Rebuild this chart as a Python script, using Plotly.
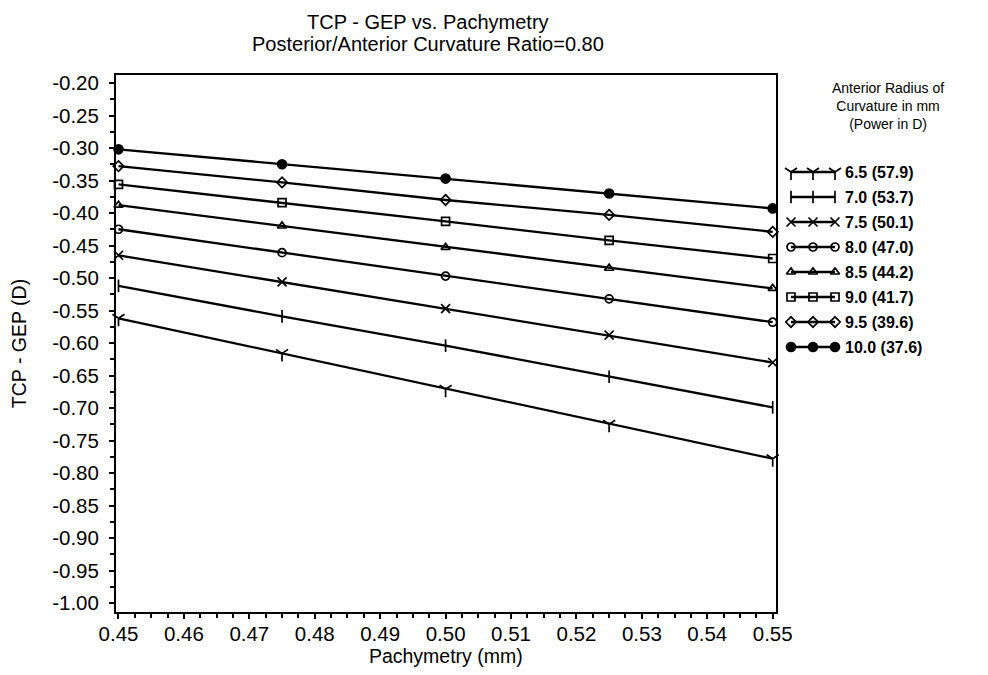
import plotly.graph_objects as go

# ---------------- data ----------------
pachymetry = [0.45, 0.475, 0.5, 0.525, 0.55]

series_labels = ["6.5 (57.9)", "7.0 (53.7)", "7.5 (50.1)", "8.0 (47.0)",
                 "8.5 (44.2)", "9.0 (41.7)", "9.5 (39.6)", "10.0 (37.6)"]

r65 = [-0.562, -0.616, -0.671, -0.725, -0.778]
r70 = [-0.512, -0.559, -0.604, -0.652, -0.699]
r75 = [-0.465, -0.506, -0.547, -0.588, -0.630]
r80 = [-0.425, -0.461, -0.497, -0.532, -0.568]
r85 = [-0.388, -0.420, -0.453, -0.485, -0.516]
r90 = [-0.356, -0.384, -0.413, -0.442, -0.470]
r95 = [-0.328, -0.353, -0.380, -0.403, -0.429]
r100 = [-0.302, -0.325, -0.347, -0.370, -0.393]

series_values = [r65, r70, r75, r80, r85, r90, r95, r100]

x_tick_vals = [0.45, 0.46, 0.47, 0.48, 0.49, 0.50, 0.51, 0.52, 0.53, 0.54, 0.55]
x_tick_text = ["0.45", "0.46", "0.47", "0.48", "0.49", "0.50", "0.51", "0.52", "0.53", "0.54", "0.55"]
y_tick_vals = [-0.20, -0.25, -0.30, -0.35, -0.40, -0.45, -0.50, -0.55, -0.60,
               -0.65, -0.70, -0.75, -0.80, -0.85, -0.90, -0.95, -1.00]
y_tick_text = ["-0.20", "-0.25", "-0.30", "-0.35", "-0.40", "-0.45", "-0.50", "-0.55", "-0.60",
               "-0.65", "-0.70", "-0.75", "-0.80", "-0.85", "-0.90", "-0.95", "-1.00"]

# ---------------- styles / layout ----------------
FONT = "Liberation Sans, Arial, Helvetica, sans-serif"
BLACK = "#000000"
symbols = ["y-down-open", "line-ns-open", "x-thin-open", "circle-open",
           "triangle-up-open", "square-open", "diamond-open", "circle"]
msizes = [10, 9, 9, 8, 8, 8, 8, 9]

W, H = 988, 675
ML, MR, MT, MB = 108, 0, 67, 71
plot_w = W - ML - MR
plot_h = H - MT - MB
main_x_end = (767.7 - ML) / plot_w
leg_x_start = 0.75
leg_px0 = ML + leg_x_start * plot_w

fig = go.Figure()

# main series
for name, vals, sym, ms in zip(series_labels, series_values, symbols, msizes):
    fig.add_trace(go.Scatter(
        x=pachymetry, y=vals, mode="lines+markers", name=name,
        line=dict(color=BLACK, width=2.3),
        marker=dict(symbol=sym, size=ms, color=BLACK,
                    line=dict(color=BLACK, width=1.7)),
        xaxis="x", yaxis="y", showlegend=False, cliponaxis=False,
    ))

# custom legend on an auxiliary pixel-scaled axis pair
leg_sample_x = [783, 805, 827]
leg_row0, leg_step = 164, 25
leg_text_x = 835
for i, (name, sym, ms) in enumerate(zip(series_labels, symbols, msizes)):
    yy = leg_row0 + i * leg_step
    fig.add_trace(go.Scatter(
        x=leg_sample_x, y=[yy] * len(leg_sample_x), mode="lines+markers",
        line=dict(color=BLACK, width=2.3),
        marker=dict(symbol=sym, size=ms, color=BLACK,
                    line=dict(color=BLACK, width=1.7)),
        xaxis="x2", yaxis="y2", showlegend=False, hoverinfo="skip",
        cliponaxis=False,
    ))
    fig.add_annotation(x=leg_text_x, y=yy, xref="x2", yref="y2",
                       text="<b>" + name + "</b>", showarrow=False,
                       xanchor="left", yanchor="middle",
                       font=dict(family=FONT, size=16, color=BLACK))

fig.add_annotation(x=880, y=98, xref="x2", yref="y2",
                   text="Anterior Radius of<br>Curvature in mm<br>(Power in D)",
                   showarrow=False, xanchor="center", yanchor="middle",
                   align="center", font=dict(family=FONT, size=14, color=BLACK))

# title (two lines placed separately for the tighter line spacing)
title_x = (420 - ML) / plot_w
for txt, ypx in [("TCP - GEP vs. Pachymetry", 14),
                 ("Posterior/Anterior Curvature Ratio=0.80", 36)]:
    fig.add_annotation(x=title_x, y=1 + (MT - ypx) / plot_h, xref="paper", yref="paper",
                       text=txt, showarrow=False, xanchor="center", yanchor="middle",
                       font=dict(family=FONT, size=20, color=BLACK))

axis_common = dict(
    showline=True, linecolor=BLACK, linewidth=2, mirror=True,
    ticks="outside", ticklen=5, tickwidth=1.5, tickcolor=BLACK,
    showgrid=False, zeroline=False,
    tickfont=dict(family=FONT, size=20.5, color=BLACK),
)

fig.update_layout(
    width=W, height=H,
    margin=dict(l=ML, r=MR, t=MT, b=MB, autoexpand=False),
    paper_bgcolor="white", plot_bgcolor="white",
    font=dict(family=FONT, color=BLACK),
    showlegend=False,
    xaxis=dict(
        domain=[0, main_x_end], range=[0.44962, 0.55046],
        tickmode="array", tickvals=x_tick_vals, ticktext=x_tick_text,
        ticklabelstandoff=-3,
        minor=dict(dtick=0.0025, tick0=0.45, ticks="outside", ticklen=4,
                   tickwidth=1.5, tickcolor=BLACK, showgrid=False),
        title=dict(text="Pachymetry (mm)", standoff=0,
                   font=dict(family=FONT, size=19.5, color=BLACK)),
        anchor="y",
        **axis_common,
    ),
    yaxis=dict(
        domain=[0, 1], range=[-1.0138, -0.1877],
        tickmode="array", tickvals=y_tick_vals, ticktext=y_tick_text,
        ticklabelstandoff=6,
        minor=dict(dtick=0.025, tick0=-0.2, ticks="outside", ticklen=4,
                   tickwidth=1.5, tickcolor=BLACK, showgrid=False),
        title=dict(text="TCP - GEP (D)", standoff=20,
                   font=dict(family=FONT, size=19.5, color=BLACK)),
        anchor="x",
        **axis_common,
    ),
    xaxis2=dict(domain=[leg_x_start, 1.0], range=[leg_px0, W], visible=False,
                anchor="y2", fixedrange=True),
    yaxis2=dict(domain=[0, 1], range=[H - MB, MT], visible=False,
                anchor="x2", fixedrange=True),
)

fig.write_html("out.html")
